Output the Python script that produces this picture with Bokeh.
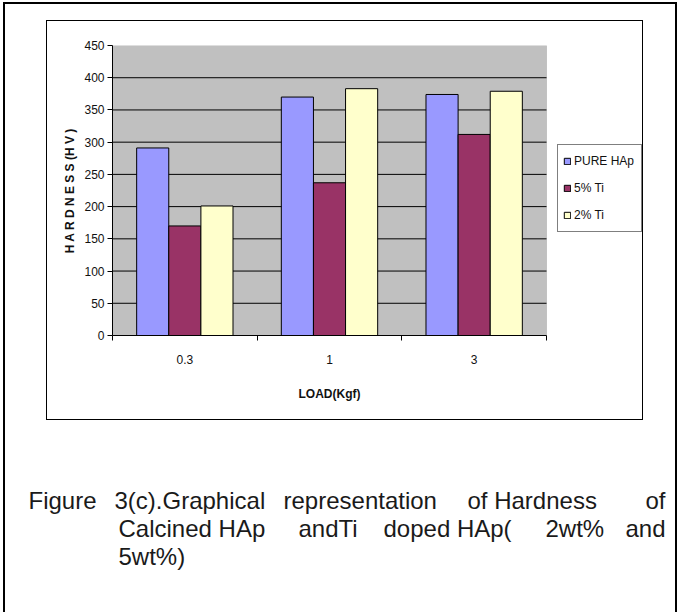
from bokeh.plotting import figure
from bokeh.models import (Range1d, LinearAxis, FixedTicker, Legend, LegendItem, Label,
                          BoxAnnotation)
from bokeh.embed import file_html
from bokeh.resources import INLINE

# ---- data ----
loads = ["0.3", "1", "3"]
pure_hap = [291, 370, 374]
ti_5 = [170, 237, 312]
ti_2 = [201, 383, 379]
series_names = ["PURE HAp", "5% Ti", "2% Ti"]
y_ticks = [0, 50, 100, 150, 200, 250, 300, 350, 400, 450]
caption_chunks = [
    ["Figure", "3(c).Graphical", "representation", "of Hardness"],
    ["Calcined HAp", "andTi", "doped HAp(", "2wt%"],
]
caption_line_ends = ["of", "and"]
caption_last = "5wt%)"

colors = ["#9999FF", "#993366", "#FFFFCC"]
FONT = "Liberation Sans"
TXT = "#111111"

W, H = 681, 612
PL, PR, PT, PB = 112, 546, 45, 335   # plot-area edges (px)
FR = 645                             # frame extends right to hold the legend
n = len(loads)
centers = [i + 0.5 for i in range(n)]

p = figure(width=W, height=H, output_backend="svg", toolbar_location=None,
           x_range=Range1d(0, n * (FR - PL) / (PR - PL)), y_range=Range1d(0, 450),
           x_axis_location=None, y_axis_location=None,
           min_border_left=PL, min_border_right=W - FR,
           min_border_top=PT, min_border_bottom=H - PB)
p.background_fill_alpha = 0
p.border_fill_alpha = 0
p.outline_line_color = None
p.grid.visible = False

# page frame and chart box as page background lines (behind the transparent canvas)
def bar(x, y, w, h):
    return f"linear-gradient(#000,#000) {x}px {y}px / {w}px {h}px no-repeat"
p.styles = {"background": ", ".join([
    bar(3, 2, 2, 610), bar(3, 2, 674, 2), bar(675, 2, 2, 610),      # outer frame
    bar(46, 20, 1, 400), bar(642, 20, 1, 400),                        # chart box sides
    bar(46, 20, 597, 1), bar(46, 419, 597, 1),                        # chart box top/bottom
]) + ", #ffffff"}

# grey plot area
p.add_layout(BoxAnnotation(left=0, right=n, bottom=0, top=450, level="underlay",
                           fill_color="#C0C0C0", fill_alpha=1,
                           line_color="#808080", line_width=1))
# horizontal gridlines at the inner ticks
grid_y = y_ticks[1:-1]
p.segment(x0=[0] * len(grid_y), x1=[n] * len(grid_y), y0=grid_y, y1=grid_y,
          line_color="black", line_width=1)

BW = 0.222
renderers = []
for vals, off, col in zip([pure_hap, ti_5, ti_2], [-BW, 0.0, BW], colors):
    r = p.vbar(x=[c + off for c in centers], top=vals, width=BW,
               fill_color=col, line_color="black", line_width=1)
    renderers.append(r)

yax = LinearAxis(ticker=FixedTicker(ticks=y_ticks))
yax.axis_line_color = "black"
yax.major_tick_out = 5
yax.major_tick_in = 0
yax.minor_tick_line_color = None
yax.major_label_text_font = FONT
yax.major_label_text_font_size = "12px"
yax.major_label_text_color = TXT
yax.major_label_standoff = 3
yax.axis_label = "H A R D N E S S (H V )"
yax.axis_label_text_font = FONT
yax.axis_label_text_font_style = "bold"
yax.axis_label_text_font_size = "12px"
yax.axis_label_text_color = TXT
yax.axis_label_standoff = 4
p.add_layout(yax, "left")

# labels at category centres, tick marks at category boundaries
xax = LinearAxis(ticker=FixedTicker(ticks=centers, minor_ticks=list(range(n + 1))),
                 major_label_overrides={c: lab for c, lab in zip(centers, loads)},
                 bounds=(0, n))
xax.axis_line_color = "black"
xax.major_tick_line_color = None
xax.minor_tick_line_color = "black"
xax.minor_tick_out = 5
xax.minor_tick_in = 0
xax.major_label_text_font = FONT
xax.major_label_text_font_size = "12px"
xax.major_label_text_color = TXT
xax.major_label_standoff = 13
p.add_layout(xax, "below")

# x-axis title, centred under the plot area
p.add_layout(Label(x=(PL + PR) / 2, y=393, x_units="canvas", y_units="canvas",
                   text="LOAD(Kgf)", text_font=FONT, text_font_size="12px",
                   text_font_style="bold", text_align="center", text_baseline="middle",
                   text_color=TXT), "above")

legend = Legend(items=[LegendItem(label=nm, renderers=[r]) for nm, r in zip(series_names, renderers)],
                location=(557 - PL, PB - 232))
legend.border_line_color = "black"
legend.border_line_width = 1
legend.background_fill_color = "white"
legend.background_fill_alpha = 1
legend.label_text_font = FONT
legend.label_text_font_size = "12px"
legend.label_text_color = TXT
legend.glyph_width = 8
legend.glyph_height = 8
legend.label_height = 22
legend.label_width = 62
legend.spacing = 5
legend.padding = 5
legend.margin = 0
legend.label_standoff = 3
p.add_layout(legend, "center")

# caption (justified in the original): word groups placed along each line
def cap_label(t, x, y, align):
    return Label(x=x, y=y, x_units="canvas", y_units="canvas", text=t,
                 text_font=FONT, text_font_size="24px", text_align=align,
                 text_baseline="middle", text_color="#1a1a1a")

chunk_x = [[28, 114, 283, 467], [118, 298, 383, 545]]
line_y = [500, 528, 556]
for chunks, xs, y in zip(caption_chunks, chunk_x, line_y):
    for t, x in zip(chunks, xs):
        p.add_layout(cap_label(t, x, y, "left"), "below")
for t, y in zip(caption_line_ends, line_y):
    p.add_layout(cap_label(t, 665, y, "right"), "left")
p.add_layout(cap_label(caption_last, 118, line_y[2], "left"), "above")

open("out.html", "w").write(file_html(p, INLINE))
